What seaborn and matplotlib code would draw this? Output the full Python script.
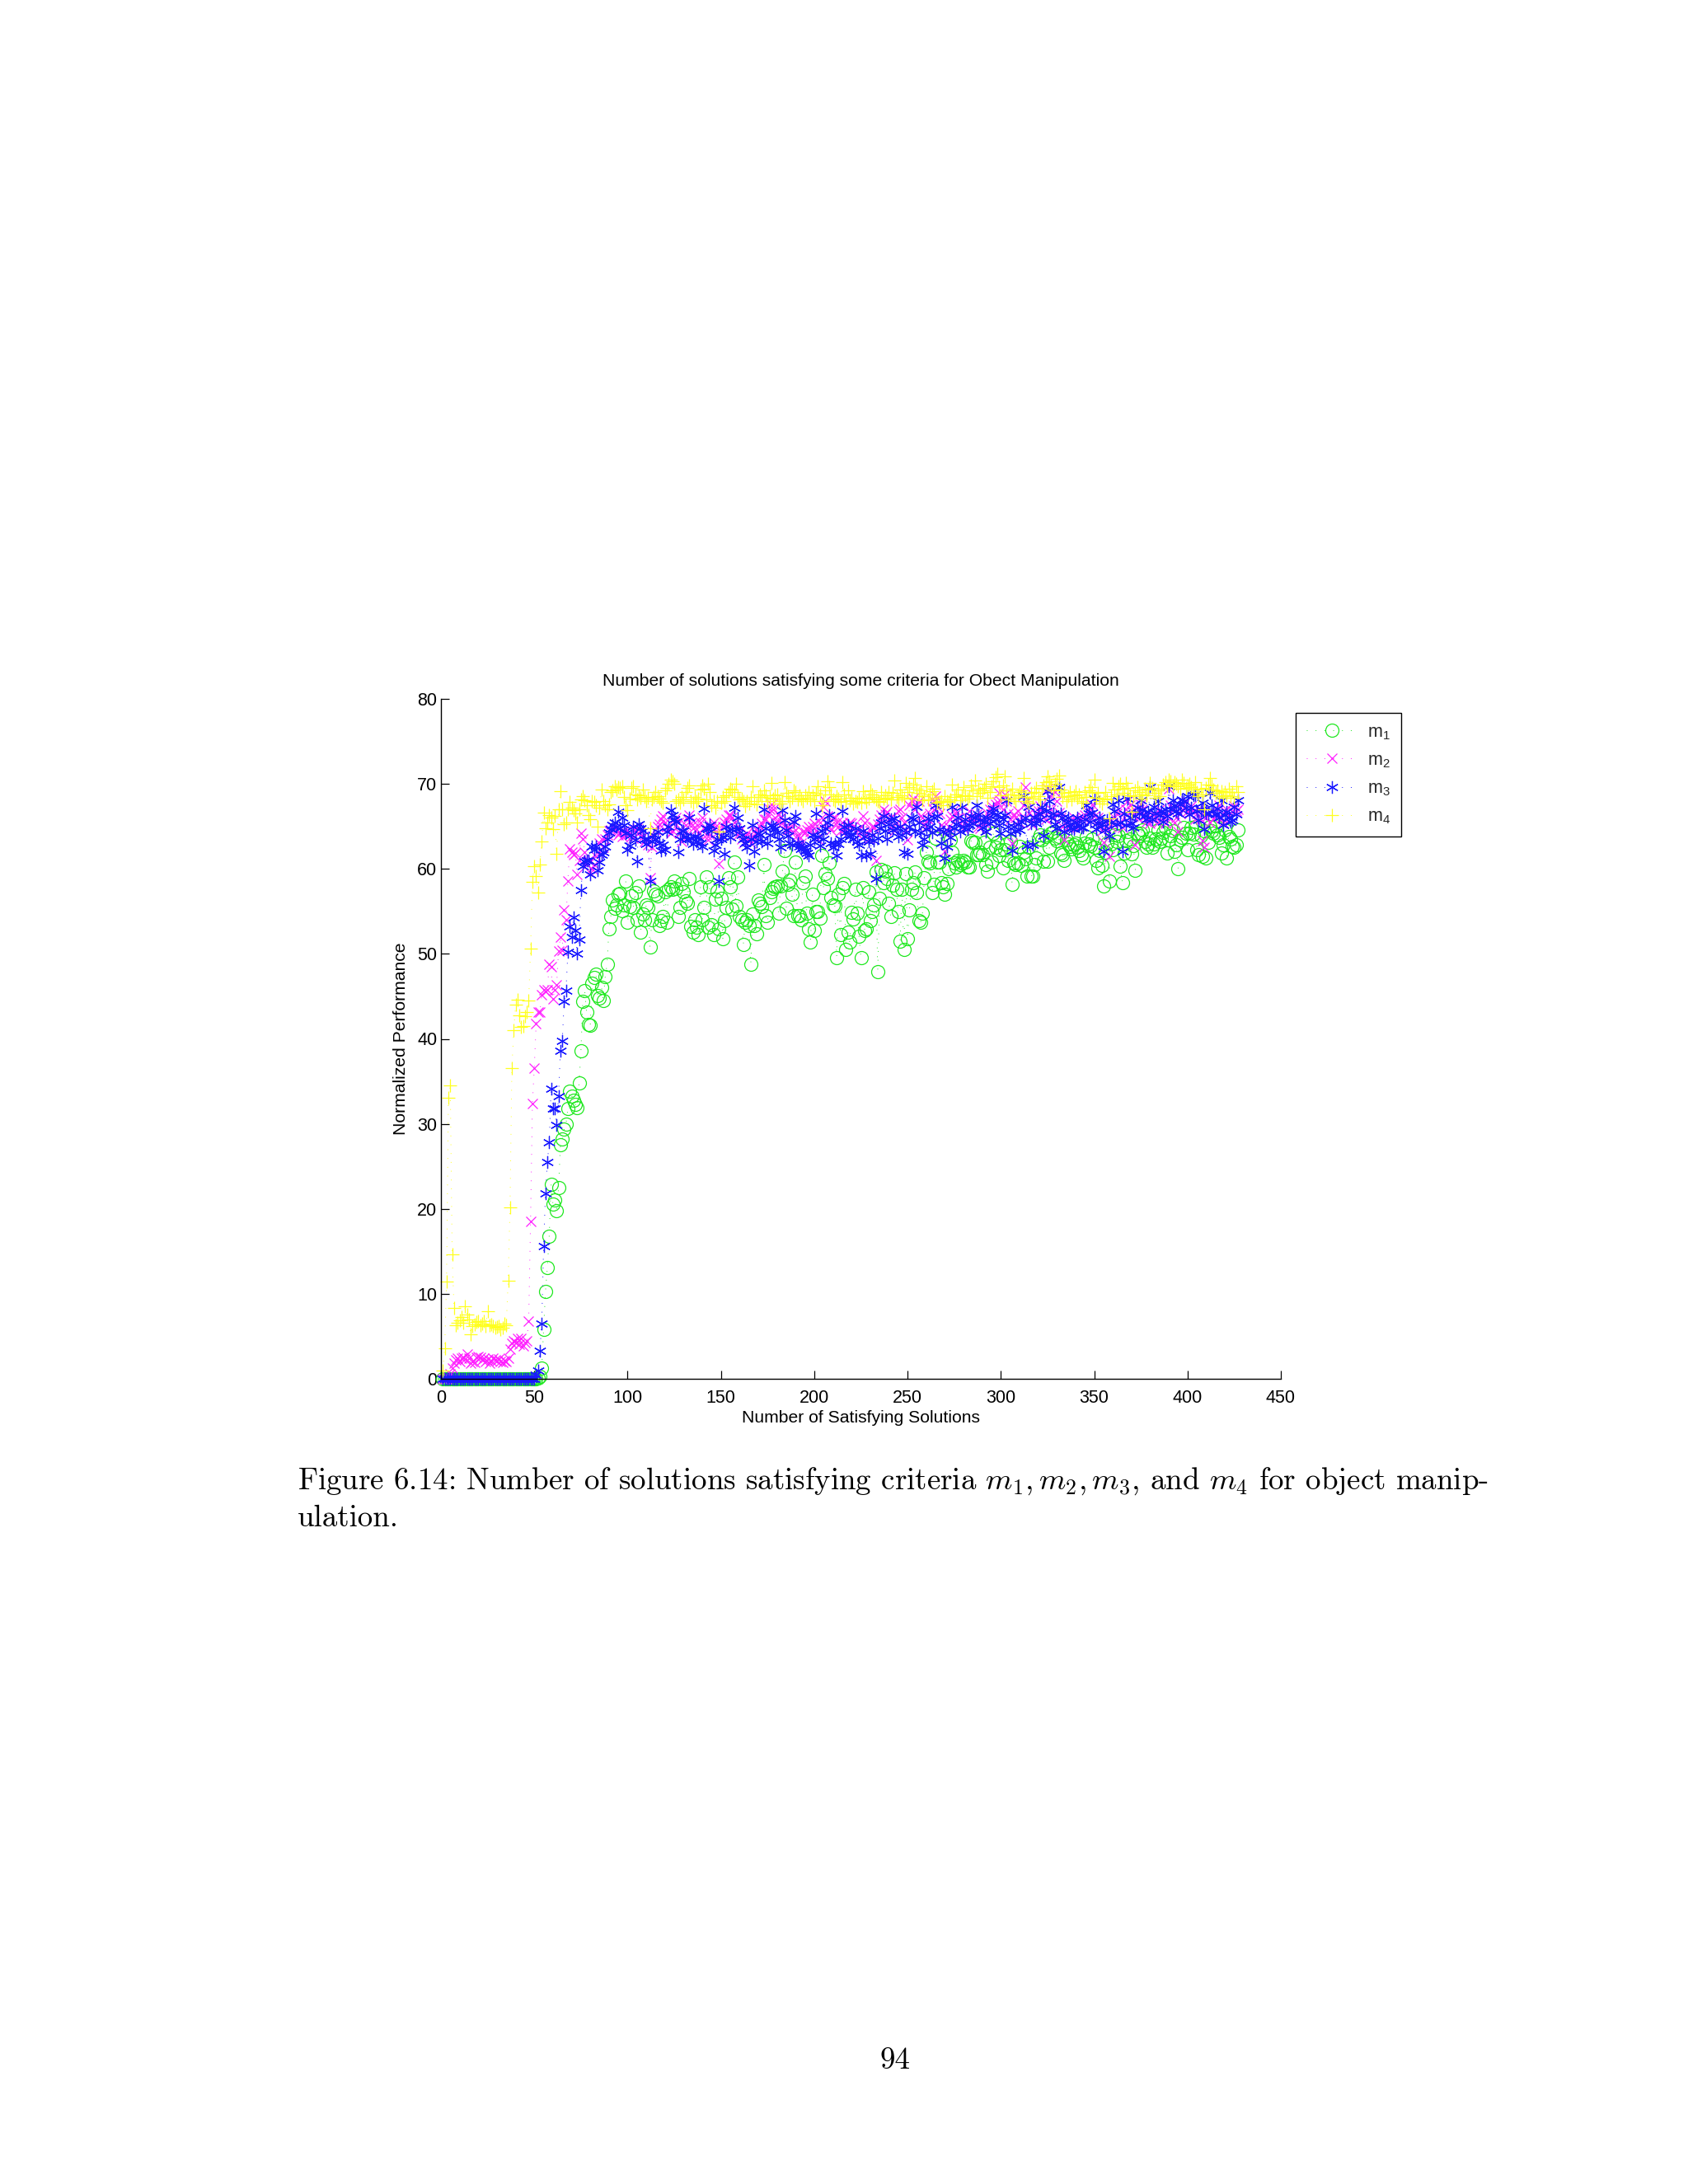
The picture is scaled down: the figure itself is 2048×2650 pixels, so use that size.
import numpy as np
import pandas as pd
import seaborn as sns
import matplotlib
matplotlib.use('Agg')
import matplotlib.pyplot as plt

# values, one entry per solution count (x = 1, 2, 3, ...)
m1 = [0.0] * 51 + [0.1, 0.3, 1.3, 5.8, 10.3, 13.1, 16.8, 22.9, 20.6,
    21, 19.8, 22.5, 27.5, 28.2, 29.4, 30, 31.8, 33.8, 33.3,
    32.8, 32.3, 31.9, 34.8, 38.6, 44.4, 45.7, 43.2, 41.7, 41.6,
    46.5, 47.2, 47.6, 45.1, 44.8, 46.1, 44.5, 47.3, 48.8, 52.9,
    54.4, 56.3, 55.4, 55.8, 57, 57.1, 55.1, 55.8, 58.6, 53.7,
    55.6, 56.8, 55.5, 57.2, 54, 58, 52.6, 54.7, 54, 55.8,
    55.5, 50.8, 54, 57.4, 57, 56.8, 53.3, 53.9, 54.4, 57.3,
    53.7, 57.6, 57.9, 57.6, 58.6, 57.7, 54.4, 55.5, 58.3, 57.3,
    56.2, 56, 58.9, 53.2, 52.6, 54, 53.1, 52.3, 57.9, 54,
    55.5, 59.1, 53.1, 57.9, 53.4, 52.3, 56.4, 57.4, 52.9, 56.5,
    51.8, 53.9, 55.5, 59, 57.9, 55.3, 60.8, 55.7, 59.1, 54.4,
    54, 51.1, 53.7, 54, 53.3, 48.8, 54.7, 53.3, 52.4, 56.3,
    56, 55.6, 60.5, 54.5, 53.7, 56.6, 57.3, 57.7, 57.9, 58,
    54.8, 58, 59.7, 62.2, 55.4, 58.2, 58.7, 57, 54.5, 60.8,
    54.5, 54.5, 54, 58.4, 59.2, 54.8, 52.9, 51.4, 57, 52.8,
    55, 55, 54.2, 61.6, 57.8, 59.4, 58.9, 60.7, 56.6, 55.8,
    55.7, 49.6, 57, 52.3, 57.8, 58.3, 50.5, 52.6, 51.4, 54.9,
    54.1, 57.6, 54.8, 52.1, 49.6, 57.8, 52.8, 52.9, 57.3, 53.9,
    55, 55.8, 59.6, 47.9, 56.5, 59.9, 58.4, 59.7, 58.9, 56,
    54.4, 58.1, 59.5, 57.6, 55, 51.5, 57.6, 50.5, 59.4, 51.8,
    55.2, 57.6, 58.4, 59.6, 57.2, 53.9, 53.7, 54.8, 59, 62,
    60.9, 60.7, 57.2, 58.2, 63.6, 60.8, 60.8, 58.4, 57.9, 57,
    58.3, 60, 63.4, 62, 60.7, 60.2, 61, 60.5, 60.7, 61,
    60.8, 60.2, 60.2, 63.3, 63.1, 63.1, 61.7, 61.7, 62, 61.7,
    63.1, 60.5, 59.7, 62.5, 60.8, 64.2, 62.5, 63.1, 61.6, 62.3,
    60.1, 62.3, 62.9, 61, 63.2, 58.2, 60.7, 60.5, 60.7, 62.6,
    60.4, 62, 61.2, 59.2, 62.5, 59.2, 59.2, 60.5, 61.3, 63.5,
    64, 63.4, 60.9, 63.8, 60.9, 62.5, 64.2, 64.4, 63.6, 63.3,
    63.8, 61.9, 61.7, 61, 63.4, 62.9, 62.6, 62.4, 62.8, 63,
    62.5, 62.2, 61.7, 61.3, 63, 63.8, 62.9, 62.7, 63.5, 62.5,
    61, 60.1, 62.2, 60.4, 58, 62, 63, 58.6, 62.9, 62.3,
    64, 63.2, 63.9, 60.3, 58.4, 61.9, 63.3, 64.4, 63.5, 61.8,
    62.7, 59.8, 64.2, 63.9, 64.2, 64.6, 63.2, 62.5, 62.9, 63.6,
    62.5, 62.9, 63.5, 64.6, 63.2, 63.6, 64.3, 64.9, 61.9, 63.4,
    63.9, 64.5, 62.1, 62.8, 60, 63.4, 63.7, 64.9, 64.2, 62.3,
    64.2, 64.9, 64.1, 65, 62.3, 61.7, 63.9, 61.5, 64.5, 61.3,
    63.1, 65, 64.5, 64.2, 65.1, 64, 63.7, 61.9, 62.8, 64.6,
    61.3, 63.8, 63.5, 62.6, 62.5, 62.8, 64.6]

m2 = [0, 0, 0, 0.2, 0.6, 1.3, 1.8, 2.2, 2.4, 2.0,
    2.4, 2.5, 2.3, 2.9, 2.4, 1.8, 2.0, 1.9, 2.5, 2.6,
    2.5, 2.2, 2.4, 2.0, 2.3, 1.8, 2.1, 2.4, 2.2, 2.1,
    2.3, 2.0, 1.9, 2.1, 2.0, 2.4, 3.5, 4.2, 4.5, 4.3,
    4.8, 4.1, 4.8, 3.9, 4.3, 4.5, 6.8, 18.5, 32.4, 36.6,
    41.8, 43.2, 43.2, 45.2, 45.8, 45.6, 45.8, 48.8, 48.5, 44.7,
    45.8, 46.4, 50.3, 52, 50.4, 55.2, 54, 58.6, 62.4, 62,
    61.7, 61.9, 59.3, 61, 64.2, 63.5, 62, 60.5, 61, 59.5,
    60, 60.5, 61.5, 62, 63, 63.5, 62.5, 63.5, 64, 64.5,
    64.6, 65, 64.8, 64.5, 64, 64.3, 63.8, 64.5, 64, 64.6,
    64.2, 63.8, 63.6, 64.4, 64.8, 64.2, 64.5, 63.8, 63.2, 63.5,
    62.8, 59, 62.5, 63.8, 64.6, 65, 65.3, 65.8, 66.2, 65.5,
    65, 64.8, 64.2, 64.5, 65.5, 66, 65.5, 64.2, 63.2, 64,
    65.2, 65.8, 66.3, 65.4, 64.8, 65.5, 64.7, 64.2, 65.5, 66,
    64.8, 64, 63.4, 64, 65, 65.5, 65, 64.3, 60.6, 64,
    65, 65.5, 65.8, 66.3, 66.3, 66, 65.5, 64.8, 64, 64.5,
    63.5, 63, 63.8, 64.2, 63.5, 63, 63.8, 64.5, 64, 64.4,
    65, 65.4, 65.8, 65.8, 66.4, 67, 67.6, 67, 66, 65.5,
    66.4, 66, 65.5, 65, 64.5, 65, 64.7, 64.2, 65.4, 64.6,
    64, 63.6, 63, 64.4, 64.3, 64.6, 65, 64.4, 65, 65.4,
    64.5, 63.5, 65.5, 66, 67.3, 68, 66.2, 65, 64.6, 66,
    66, 65.5, 65, 64.5, 65.5, 64.7, 64.5, 65.2, 65.5, 65.4,
    65, 64.3, 64.6, 64, 65, 66.2, 65.5, 64, 63.5, 64.5,
    65, 65, 61, 65.3, 65.8, 66.3, 67, 66.4, 66.7, 65.8,
    66, 65, 64.5, 65.5, 66.8, 67, 66, 65.5, 64.6, 63.4,
    67.5, 68, 68.3, 67, 67.5, 68, 66.2, 66, 65.2, 65,
    65.8, 66.5, 67.2, 68, 68.6, 67.3, 66.5, 65.2, 65, 62.1,
    64.5, 65, 65.8, 66.2, 67, 66.5, 66, 65.4, 65, 64.8,
    65.5, 66, 66.8, 66, 65.5, 65.8, 66.4, 65, 64.8, 65.6,
    65.5, 66, 66.5, 67, 67.4, 66.8, 67.6, 67.9, 68.9, 68,
    67, 68.8, 68, 66.5, 65.8, 63, 66.4, 66, 66.8, 65.5,
    66, 67.5, 69.6, 68, 66.5, 65.5, 65.2, 66, 66.4, 66.8,
    67.4, 66.8, 66, 65.8, 69.4, 68.6, 67, 66, 69, 68,
    66.6, 66, 65, 63.4, 65.5, 65, 64.8, 65.3, 66, 65.6,
    65.2, 65, 65.8, 66, 66.3, 65.8, 66.6, 67.1, 67.6, 66.2,
    65.5, 66, 65, 64.5, 63.1, 65, 65.5, 61.5, 65, 65.5,
    66, 66.5, 67, 65.5, 64.9, 66, 67, 68, 67.5, 66.8,
    66.2, 62.8, 66, 67, 67.6, 67, 66.2, 65.6, 66, 65.4,
    65.8, 66.4, 66, 65.5, 67, 66.5, 66, 65.4, 66.2, 69.4,
    67.5, 67, 65.5, 66, 64.4, 66.5, 67, 67.6, 68, 66.8,
    66.5, 67.4, 66.8, 65.8, 66.5, 67, 65.8, 63.3, 62.5, 66,
    66.5, 65.5, 66.8, 65.9, 66.2, 67, 67.5, 66, 65.5, 66.8,
    67, 66.3, 66, 66.8, 67.4, 66.8, 67]

m3 = [0.0] * 50 + [0.5, 1, 3.3, 6.5, 15.6, 21.8, 25.5, 27.8, 34.1, 31.8,
    31.8, 29.9, 33.3, 38.6, 39.8, 44.4, 45.7, 50.2, 53.2, 52,
    54.3, 52.8, 50, 51.7, 57.5, 60.3, 60.9, 61, 61, 59.3,
    62.6, 62.3, 62.6, 59.8, 60.8, 61.7, 62, 62.6, 63.5, 64.3,
    64.7, 65.2, 65.5, 65, 66.7, 64.8, 66, 65.2, 64.2, 62.3,
    62.7, 64, 65, 63.4, 60.9, 65.3, 64.8, 64.5, 63.5, 62.9,
    63.5, 58.6, 63.2, 64, 63.5, 64.4, 63, 62.2, 62.8, 62.3,
    64.4, 65, 66.9, 66.3, 65.8, 65.6, 62, 63.5, 64.5, 64.5,
    63.8, 63.5, 66, 63.6, 62.9, 63.8, 63.2, 63.7, 63, 62.6,
    67.1, 64.8, 64.7, 65.2, 64.5, 62.2, 62.8, 63.5, 58.6, 63.5,
    63.8, 61.8, 65, 64.5, 63.7, 64.7, 67.2, 64.7, 66, 64.8,
    64, 63.5, 63, 62.5, 60.4, 63.5, 65.2, 62.1, 63.2, 64.2,
    64, 63.2, 67, 64.8, 63, 64, 65.2, 65, 64.7, 64.3,
    63.5, 62.5, 66.9, 65.7, 64.6, 63.9, 63, 62.8, 65.6, 66.2,
    63, 62.6, 62.4, 62.5, 62.2, 61.9, 61.6, 62.8, 64, 63.5,
    66.5, 63.8, 62.7, 64.5, 63.5, 64.8, 65.5, 66.3, 63, 62.5,
    62.9, 61.6, 62.9, 63.5, 66.8, 65, 64.3, 65.2, 63.8, 64.1,
    63.5, 64.8, 63.2, 62.8, 61.6, 64.5, 63.8, 61.6, 63.2, 61.8,
    64, 63.3, 58.9, 63.6, 64.8, 65.5, 66.2, 64.5, 63.5, 65.3,
    65.8, 64.6, 65.9, 64.8, 63.8, 65, 64, 62, 64.3, 61.8,
    65, 66, 65.8, 64.4, 67.3, 65.5, 64.3, 62.8, 63.5, 64.7,
    65.9, 65, 64.3, 66, 67.5, 66.2, 64.7, 63, 64.4, 61.3,
    62.6, 64.5, 63.7, 67.3, 64.8, 65.3, 66, 64.4, 67.3, 65,
    65.8, 64.7, 65.2, 66.2, 65.4, 66, 67.5, 66.4, 65.7, 64.9,
    65.6, 64.4, 66, 65.4, 66.6, 67.1, 65.8, 66.4, 65.2, 64.2,
    65.8, 66.3, 68.1, 65, 64.2, 62.2, 65, 64.5, 65.3, 64.6,
    65.6, 68.6, 66, 62.7, 67.3, 65.4, 62.8, 66, 65.4, 66.5,
    65.8, 67.3, 63.9, 66.8, 69.1, 68, 66, 66.5, 65.3, 64.8,
    69.6, 66.5, 66, 64.4, 65.5, 66, 65.3, 64.8, 64.7, 65.5,
    66, 65.2, 64.9, 64.9, 65.8, 67.5, 66.5, 65.6, 66.6, 68.3,
    64.7, 65.4, 66, 65.3, 62.1, 64.6, 65.7, 63.9, 65.5, 67.6,
    66.8, 65.3, 68.1, 65.5, 62.1, 66.5, 65.2, 68.3, 66, 65.4,
    64.9, 66.2, 67.2, 66.5, 68.1, 67, 66.2, 65.8, 66.7, 69.6,
    65.8, 67.3, 66.5, 68, 66.3, 66.8, 65.6, 67, 66.2, 69.7,
    67, 68.1, 67.5, 66.8, 66.5, 67.6, 68.2, 68, 67.2, 68.6,
    66.4, 67.2, 68.7, 68.8, 66.8, 65.7, 67, 67.8, 64.7, 66.5,
    66.5, 68.9, 67.5, 66.8, 66.4, 67.1, 66, 68.1, 65.2, 66.3,
    66.7, 66, 65.6, 65.7, 67.3, 66.4, 68.1]

m4 = [1, 3.6, 11.4, 33.1, 34.5, 14.6, 8.3, 6.3, 6.6, 6.9,
    7.3, 6.6, 8.5, 7.6, 7, 5.2, 6.2, 6.4, 6.7, 6.8,
    6.3, 6.5, 6.8, 6.2, 8, 6.3, 6.4, 6.2, 6, 6.1,
    6.2, 5.8, 6, 6.5, 6.3, 11.5, 20.2, 36.6, 41, 44,
    44.6, 42.8, 41.4, 41.5, 42.7, 43.2, 44.5, 50.6, 58.5, 60.3,
    59.2, 57.2, 60.5, 63.2, 66.6, 64.8, 65.5, 66.3, 66, 64.7,
    66.2, 61.8, 67, 69.1, 67, 65.3, 65.5, 67, 67.9, 67.2,
    66.9, 66.5, 65.5, 67, 68.2, 68.6, 68.1, 67.5, 66.3, 65.8,
    68, 67.9, 67.5, 65, 67.2, 69.3, 68, 67.5, 67, 67.6,
    69, 69.2, 69.7, 69.3, 69.6, 69.5, 69.7, 68.5, 67.5, 66.9,
    68.3, 69.5, 69.7, 68.8, 68.2, 68.7, 68.4, 69.3, 68.5, 68,
    68.4, 64.8, 68.2, 68.5, 69, 68.6, 68.3, 68, 67.8, 69.2,
    69.5, 70, 70.5, 70.3, 70, 68, 68.2, 67.8, 68.5, 68.2,
    69, 69.5, 69.8, 68, 67.8, 68.5, 68, 68.3, 69.3, 69.8,
    69.4, 68.2, 70, 69, 67.5, 68, 67.2, 68, 64.4, 67.8,
    68.5, 68, 68.7, 69, 69.4, 69.3, 69, 70, 68.5, 68.2,
    68.3, 68, 67.4, 68, 67.7, 68.5, 69.7, 68, 67.6, 68.5,
    68.8, 68.5, 69.2, 68.7, 68, 68.4, 70.1, 68.3, 68.7, 68.8,
    68, 67.7, 68, 70.2, 68.9, 68.6, 68, 68.4, 69.2, 69,
    68.2, 68.7, 68.3, 68, 68.7, 68.4, 69, 68.2, 68.7, 68,
    68.9, 69.7, 68.8, 67.5, 68, 69.2, 70.3, 69.6, 68.8, 68.2,
    68, 68.6, 68.3, 67.9, 70.2, 68.8, 68, 69.2, 68.1, 68.4,
    67.7, 68, 67.9, 68.3, 67.8, 69.1, 68.4, 67.9, 68.3, 69.2,
    68.8, 68.5, 68.2, 68, 67.9, 69, 68.3, 68.7, 68.4, 69,
    68.2, 68.9, 70.4, 68.5, 68.2, 69.3, 68.7, 68.4, 70.1, 69,
    69.6, 68.3, 69.9, 70.7, 69.4, 68.9, 69.2, 68.1, 68.6, 69.7,
    68.2, 68.8, 69.1, 69.4, 68.4, 67.8, 67.9, 68, 67.5, 68.6,
    68, 67.9, 68.2, 69.9, 68.5, 68.8, 69.3, 68.1, 68.6, 69.6,
    68.7, 68.3, 68.6, 69.8, 69.2, 70.4, 68.6, 69.4, 68.9, 69.2,
    69.5, 70, 68.4, 69, 69.7, 70.3, 70.8, 71.2, 69.6, 68.7,
    69.8, 70.9, 69.2, 68.2, 68.8, 69.4, 68.4, 68, 68.7, 69,
    69.2, 70.7, 68.5, 68, 67.8, 68.9, 68.4, 69, 69.5, 68.6,
    68.2, 69.4, 69.8, 70.2, 70.9, 70.3, 69.7, 69.2, 70, 70.6,
    71, 69.3, 68.5, 68.9, 68, 68.6, 69, 68.2, 68.7, 69.1,
    68.4, 68.8, 68, 67.8, 69, 68.5, 69.2, 69.6, 69, 70.5,
    68.4, 68.9, 68, 67.7, 68.3, 69, 68.2, 65.9, 68.6, 70.1,
    69.3, 68.8, 69.7, 70, 69.4, 68.9, 70.1, 69.5, 68.7, 66.7,
    68.6, 69.2, 69.6, 69, 68.3, 68.8, 69.4, 68.7, 69.3, 70.1,
    69.5, 68.9, 68.4, 69.2, 68.6, 69.4, 69.9, 70.2, 69.7, 70.5,
    70.3, 69.8, 70.2, 70, 69.7, 69.4, 70.5, 70.1, 69.5, 69.8,
    70, 69.6, 69.3, 70.2, 69, 68.6, 69.4, 68.8, 67, 69.5,
    69.9, 70.7, 69.8, 69.3, 68.9, 69.2, 68.6, 69.1, 68.4, 69,
    68.7, 69.4, 68.6, 69, 68.4, 69.7, 69]

x_ticks = [0, 50, 100, 150, 200, 250, 300, 350, 400, 450]
y_ticks = [0, 10, 20, 30, 40, 50, 60, 70, 80]

W, H = 2048, 2650

sns.set_theme(style='ticks')
plt.rcParams['font.family'] = ['Liberation Sans']
plt.rcParams['mathtext.fontset'] = 'custom'
plt.rcParams['mathtext.rm'] = 'Liberation Sans'
plt.rcParams['mathtext.it'] = 'Liberation Sans'
plt.rcParams['mathtext.default'] = 'regular'

fig = plt.figure(figsize=(W / 100, H / 100), dpi=100, facecolor='white')
ax = fig.add_axes([535 / W, 1 - 1673 / H, (1554 - 535) / W, (1673 - 848) / H])

series = [
    ('m$_1$', m1, '#1fe81f', 'o', 11.5, 0.9, dict(markerfacecolor='none')),
    ('m$_2$', m2, '#ff1fff', 'x', 8, 0.9, dict()),
    ('m$_3$', m3, '#1a1aff', (6, 2, 0), 11, 0.9, dict()),
    ('m$_4$', m4, '#ffff1f', '+', 11, 0.9, dict()),
]

for name, values, colour, mark, size, edge, extra in series:
    df = pd.DataFrame({'x': np.arange(1, len(values) + 1), 'y': values})
    sns.lineplot(data=df, x='x', y='y', ax=ax, estimator=None, sort=False, color=colour,
                 marker=mark, markersize=size, markeredgewidth=edge, markeredgecolor=colour,
                 linewidth=0.7, linestyle=(0, (1, 10)), label=name, clip_on=False, **extra)

ax.set_xlim(0, 450)
ax.set_ylim(0, 80)
ax.set_xticks(x_ticks)
ax.set_yticks(y_ticks)
ax.tick_params(direction='in', length=7.5, width=0.9, labelsize=15.5, color='black', labelcolor='black')
ax.tick_params(axis='x', pad=9)
sns.despine(ax=ax)
for side in ['left', 'bottom']:
    ax.spines[side].set_linewidth(1.0)
    ax.spines[side].set_color('black')

ax.set_xlabel('Number of Satisfying Solutions', fontsize=15.2, color='black', labelpad=3)
ax.set_ylabel('Normalized Performance', fontsize=15.2, color='black', labelpad=7.5)
ax.set_title('Number of solutions satisfying some criteria for Obect Manipulation',
             fontsize=15.2, color='black', x=0.4995, pad=11.5)

leg = ax.legend(loc='upper left', bbox_to_anchor=(1572 / W, 1 - 865 / H), bbox_transform=fig.transFigure,
                fontsize=15.5, frameon=True, fancybox=False, edgecolor='black', framealpha=1,
                borderaxespad=0, handlelength=2.9, labelspacing=0.58, numpoints=1, handletextpad=0.55,
                borderpad=0.6)
leg.get_frame().set_linewidth(1.0)

# thesis page text around the plot
caption = dict(family='cmr10', fontsize=26.6, color='black', math_fontfamily='cm', va='baseline')
fig.text(361 / W, 1 - 1807 / H,
         r'Figure 6.14: Number of solutions satisfying criteria $\mathit{m}_1,\mathit{m}_2,\mathit{m}_3$, and $\mathit{m}_4$ for object manip-',
         **caption)
fig.text(361 / W, 1 - 1852 / H, 'ulation.', **caption)
fig.text(1086 / W, 1 - 2510 / H, '94', ha='center', **caption)

fig.savefig('out.png', dpi=100, facecolor='white')
